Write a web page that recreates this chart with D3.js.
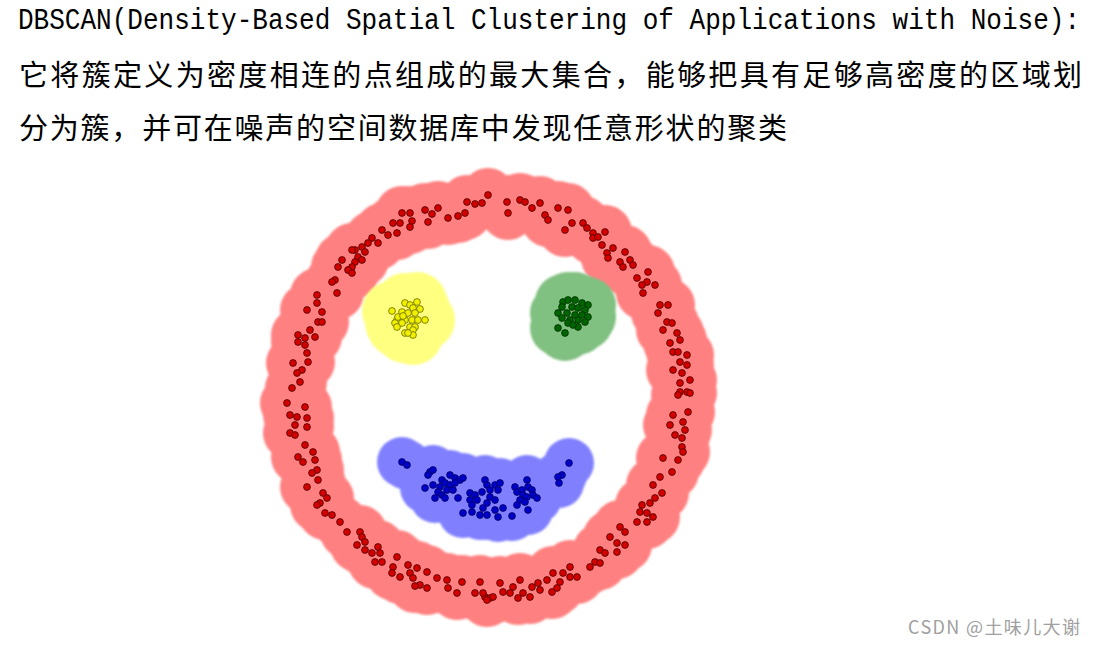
<!DOCTYPE html>
<html>
<head>
<meta charset="utf-8">
<script src="https://cdn.jsdelivr.net/npm/d3@7"></script>
<style>
  body { margin: 0; background: #fff; }
  svg { display: block; }
</style>
</head>
<body>
<div id="chart"></div>
<script>
// points, offsets from the ring centre (y up)
const ringPts = [
  [-2,205],[-8,197],[-15,196],[-23,198],[-25,187],[-32,184],[-42,182],[-52,192],[-58,186],[-62,178],
  [-65,190],[-80,187],[-78,179],[-80,173],[-88,187],[-90,177],[-97,177],[-93,167],[-102,165],[-108,170],
  [-112,157],[-118,162],[-122,157],[-128,153],[-135,150],[-138,150],[-125,148],[-132,143],[-128,140],[-135,138],
  [-138,133],[-148,140],[-152,133],[-142,130],[-138,127],[-155,120],[-158,118],[-153,107],[-173,105],[-173,97],
  [-183,90],[-168,88],[-172,78],[-168,78],[-180,70],[-192,65],[-192,58],[-185,62],[-175,63],[-185,55],
  [-183,47],[-182,38],[-197,37],[-188,30],[-193,27],[-190,18],[-198,12],
  [-203,-3],[-185,-7],[-200,-15],[-193,-17],[-183,-18],[-195,-25],[-183,-27],[-200,-33],[-195,-35],[-185,-45],
  [-192,-57],[-187,-62],[-177,-52],[-175,-60],[-173,-70],[-178,-73],[-172,-80],[-183,-87],[-167,-93],[-163,-98],
  [-170,-103],[-173,-105],[-165,-113],[-158,-115],[-150,-122],[-143,-132],[-130,-132],[-128,-137],[-125,-142],[-133,-145],
  [-125,-150],[-118,-153],[-112,-147],[-110,-153],[-115,-162],[-108,-162],[-93,-157],[-97,-167],[-98,-173],[-90,-177],
  [-82,-165],[-80,-173],[-73,-168],[-77,-178],[-63,-172],[-53,-178],[-70,-185],[-63,-188],[-75,-186],[-43,-180],
  [-42,-188],[-33,-193],[-28,-182],[-15,-193],[-10,-182],[-5,-197],[0,-198],
  [17,198],[18,187],[30,200],[35,198],[42,192],[50,197],[55,185],[58,180],[68,192],[78,190],
  [82,177],[75,170],[93,177],[97,172],[103,167],[115,168],[103,162],[108,163],[112,155],[123,152],
  [117,147],[118,142],[135,148],[130,138],[140,140],[143,135],[133,133],[147,122],[158,128],[157,118],
  [165,115],[152,115],[153,107],[170,95],[178,95],[168,87],[177,78],[182,77],[173,70],[187,67],
  [190,60],[180,57],[183,48],[188,48],[197,45],[190,38],[183,30],[192,27],[197,35],[200,20],
  [190,8],[197,8],
  [190,17],[188,5],[200,7],[183,-15],[198,-12],[180,-25],[193,-22],[195,-30],[185,-35],[192,-38],
  [192,-47],[193,-52],[188,-60],[173,-58],[182,-72],[170,-77],[163,-85],[172,-93],[165,-98],[160,-103],
  [152,-105],[150,-112],[157,-113],[163,-117],[147,-122],[157,-122],[130,-127],[135,-132],[120,-137],[127,-143],
  [135,-145],[127,-152],[110,-150],[115,-153],[105,-162],[110,-163],[100,-167],[80,-167],[73,-173],[80,-177],
  [87,-177],[70,-182],[63,-173],[67,-188],[62,-192],[57,-180],[48,-183],[50,-190],[42,-187],[30,-180],
  [23,-187],[20,-193],[33,-193],[10,-183],[13,-192],[3,-197],[-3,-200],[-7,-193],[28,-198],[40,-197]
];

const yellowPts = [
  [-98,89],[-85,97],[-80,95],[-73,98],[-77,92],[-70,91],[-88,88],[-82,87],[-75,87],[-93,80],
  [-85,80],[-78,80],[-72,80],[-65,80],[-95,77],[-88,77],[-80,73],[-75,73],[-93,73],[-77,70],
  [-85,67],[-77,65],[-82,67],[-92,83],[-87,84]
];

const greenPts = [
  [73,98],[78,100],[85,100],[92,97],[98,95],[72,93],[82,93],[88,92],[95,90],[68,87],
  [77,87],[85,85],[92,85],[98,83],[72,82],[80,80],[88,80],[95,78],[78,77],[88,73],
  [68,72],[75,67],[83,75]
];

const bluePts = [
  [-88,-62],[-83,-65],[-60,-72],[-57,-70],[-62,-75],[-48,-80],[-40,-75],[-35,-78],[-30,-80],[-27,-78],
  [-65,-88],[-57,-85],[-50,-87],[-45,-83],[-40,-85],[-35,-83],[-52,-92],[-43,-90],[-37,-90],[-48,-95],
  [-55,-98],[-45,-98],[-32,-98],[-20,-93],[-15,-95],[-8,-92],[-20,-100],[-13,-100],[-18,-105],[-5,-80],
  [-3,-85],[5,-85],[10,-83],[0,-90],[8,-90],[0,-97],[5,-100],[-3,-103],[-27,-113],[-18,-112],
  [-10,-115],[-3,-115],[8,-117],[5,-110],[13,-108],[22,-116],[-7,-108],[25,-87],[27,-92],[32,-90],
  [37,-80],[38,-87],[42,-90],[33,-95],[30,-100],[37,-97],[43,-95],[47,-98],[27,-105],[38,-110],
  [35,-102],[72,-75],[68,-77],[69,-83],[79,-63]
];

const titleLine = 'DBSCAN(Density-Based Spatial Clustering of Applications with Noise):';
const textLines = [
  '它将簇定义为密度相连的点组成的最大集合，能够把具有足够高密度的区域划',
  '分为簇，并可在噪声的空间数据库中发现任意形状的聚类'
];
const watermark = 'CSDN @土味儿大谢';

const width = 1095, height = 645;

const clusters = [
  { pts: ringPts,   eps: 27, halo: '#ff8080', fill: '#d40000', stroke: '#4a0000' },
  { pts: yellowPts, eps: 30, halo: '#ffff80', fill: '#f0f000', stroke: '#6a6a00' },
  { pts: greenPts,  eps: 28, halo: '#80c080', fill: '#006400', stroke: '#003000' },
  { pts: bluePts,   eps: 25, halo: '#8080ff', fill: '#0000c8', stroke: '#000060' }
];

const svg = d3.select('#chart').append('svg')
  .attr('width', width)
  .attr('height', height);

const x = d3.scaleLinear().domain([-240, 240]).range([250, 730]);
const y = d3.scaleLinear().domain([-240, 240]).range([640, 160]);

const defs = svg.append('defs');
defs.append('filter').attr('id', 'soft')
  .append('feGaussianBlur').attr('stdDeviation', 0.8);

// halo = union of eps circles round every point
clusters.forEach(c => {
  svg.append('g')
    .attr('fill', c.halo)
    .attr('filter', 'url(#soft)')
    .selectAll('circle')
    .data(c.pts)
    .enter().append('circle')
    .attr('cx', d => x(d[0]))
    .attr('cy', d => y(d[1]))
    .attr('r', c.eps);
});

clusters.forEach(c => {
  svg.append('g')
    .attr('fill', c.fill)
    .attr('stroke', c.stroke)
    .attr('stroke-width', 0.8)
    .selectAll('circle')
    .data(c.pts)
    .enter().append('circle')
    .attr('cx', d => x(d[0]))
    .attr('cy', d => y(d[1]))
    .attr('r', 3.4);
});

// text block - title font is narrow & tall in the original, so stretch vertically
svg.append('text')
  .attr('transform', 'translate(18,29) scale(1,1.15)')
  .attr('font-family', '"Liberation Mono", "DejaVu Sans Mono", monospace')
  .attr('font-size', 26)
  .attr('textLength', 1062)
  .attr('lengthAdjust', 'spacingAndGlyphs')
  .attr('fill', '#000')
  .text(titleLine);

svg.selectAll('.zh')
  .data(textLines)
  .enter().append('text')
  .attr('class', 'zh')
  .attr('x', 19)
  .attr('y', (d, i) => 86 + i * 53)
  .attr('font-family', '"Noto Sans CJK SC", sans-serif')
  .attr('font-size', 29)
  .attr('textLength', (d, i) => i === 0 ? 1063 : 768)
  .attr('lengthAdjust', 'spacing')
  .attr('fill', '#000')
  .text(d => d);

svg.append('text')
  .attr('x', 908)
  .attr('y', 634)
  .attr('font-family', '"Noto Sans CJK SC", "Noto Sans", sans-serif')
  .attr('font-size', 18)
  .attr('textLength', 172)
  .attr('lengthAdjust', 'spacing')
  .attr('fill', '#a0a0a0')
  .text(watermark);
</script>
</body>
</html>
